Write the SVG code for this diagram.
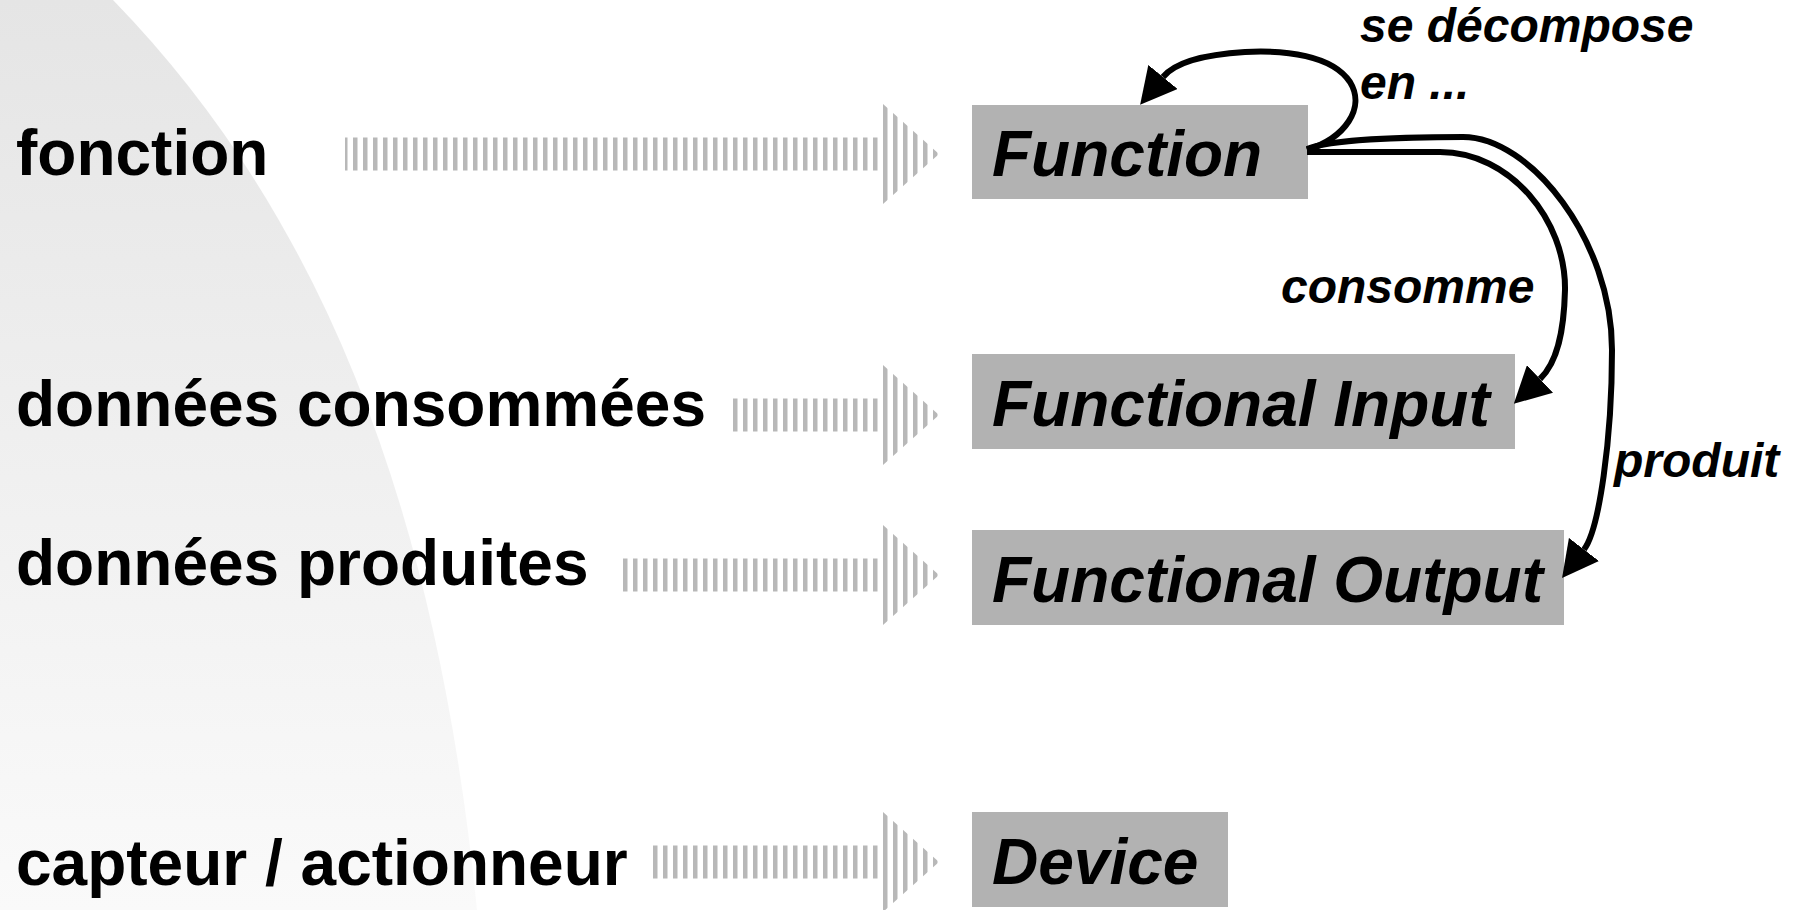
<svg xmlns="http://www.w3.org/2000/svg" width="1804" height="910" viewBox="0 0 1804 910">
  <defs>
    <style>
      .lbl { font-family: "Liberation Sans", Arial, sans-serif; font-weight: bold; font-size: 64px; fill: #000; }
      .box rect { fill: #b2b2b2; }
      .box text { font-family: "Liberation Sans", Arial, sans-serif; font-weight: bold; font-style: italic; font-size: 64px; fill: #000; }
      .rel { font-family: "Liberation Sans", Arial, sans-serif; font-weight: bold; font-style: italic; font-size: 48px; fill: #000; }
      .edge { fill: none; stroke: #000; stroke-width: 6; marker-end: url(#head); }
      .stripe { fill: url(#stripes); }
    </style>
    <linearGradient id="bgShade" x1="0" y1="0" x2="0" y2="1">
      <stop offset="0" stop-color="#e5e5e5"/>
      <stop offset="1" stop-color="#fafafa"/>
    </linearGradient>
    <pattern id="stripes" patternUnits="userSpaceOnUse" x="3" y="0" width="10" height="10">
      <rect width="4.5" height="10" fill="#b8b8b8"/>
    </pattern>
    <marker id="head" markerUnits="userSpaceOnUse" viewBox="0 0 36 38" markerWidth="36" markerHeight="38" refX="0" refY="19" orient="auto">
      <path d="M0,0 L36,19 L0,38 Z" fill="#000"/>
    </marker>
  </defs>

  <!-- shaded backdrop on the left -->
  <path d="M0,0 L113,0 C323,216 437,510 477,910 L0,910 Z" fill="url(#bgShade)"/>

  <!-- row labels -->
  <text class="lbl" x="16" y="175">fonction</text>
  <text class="lbl" x="16" y="426">données consommées</text>
  <text class="lbl" x="16" y="585">données produites</text>
  <text class="lbl" x="16" y="885">capteur / actionneur</text>

  <!-- striped pointer arrows -->
  <g id="pointer-fonction">
    <rect class="stripe" x="345" y="137.5" width="538" height="33"/>
    <polygon class="stripe" points="883,104 939,154 883,204"/>
  </g>
  <g id="pointer-consommees">
    <rect class="stripe" x="733" y="398.5" width="150" height="33"/>
    <polygon class="stripe" points="883,365 939,415 883,465"/>
  </g>
  <g id="pointer-produites">
    <rect class="stripe" x="623" y="558.5" width="260" height="33"/>
    <polygon class="stripe" points="883,525 939,575 883,625"/>
  </g>
  <g id="pointer-capteur">
    <rect class="stripe" x="653" y="845.5" width="230" height="33"/>
    <polygon class="stripe" points="883,812 939,862 883,912"/>
  </g>

  <!-- model elements -->
  <g id="function" class="box">
    <rect x="972" y="105" width="336" height="94"/>
    <text x="992" y="176">Function</text>
  </g>
  <g id="functional-input" class="box">
    <rect x="972" y="354" width="543" height="95"/>
    <text x="992" y="426">Functional Input</text>
  </g>
  <g id="functional-output" class="box">
    <rect x="972" y="530" width="592" height="95"/>
    <text x="992" y="602">Functional Output</text>
  </g>
  <g id="device" class="box">
    <rect x="972" y="812" width="256" height="95"/>
    <text x="992" y="884">Device</text>
  </g>

  <!-- relations -->
  <g id="connectors">
    <path class="edge" d="M1307,150 C1345,138 1366,108 1350,82 C1332,55 1285,50 1245,52 C1212,54 1177,60 1163,77"/>
    <path class="edge" d="M1307,152 L1440,152 C1510,152 1566,220 1565,290 C1564,330 1558,362 1540,379"/>
    <path class="edge" d="M1307,149 C1330,140 1400,137 1463,137 C1530,137 1612,240 1612,350 C1612,440 1599,530 1584,549.5"/>
    <text class="rel" x="1360" y="42">se décompose</text>
    <text class="rel" x="1360" y="99">en ...</text>
    <text class="rel" x="1281" y="303">consomme</text>
    <text class="rel" x="1614" y="477">produit</text>
  </g>
</svg>
